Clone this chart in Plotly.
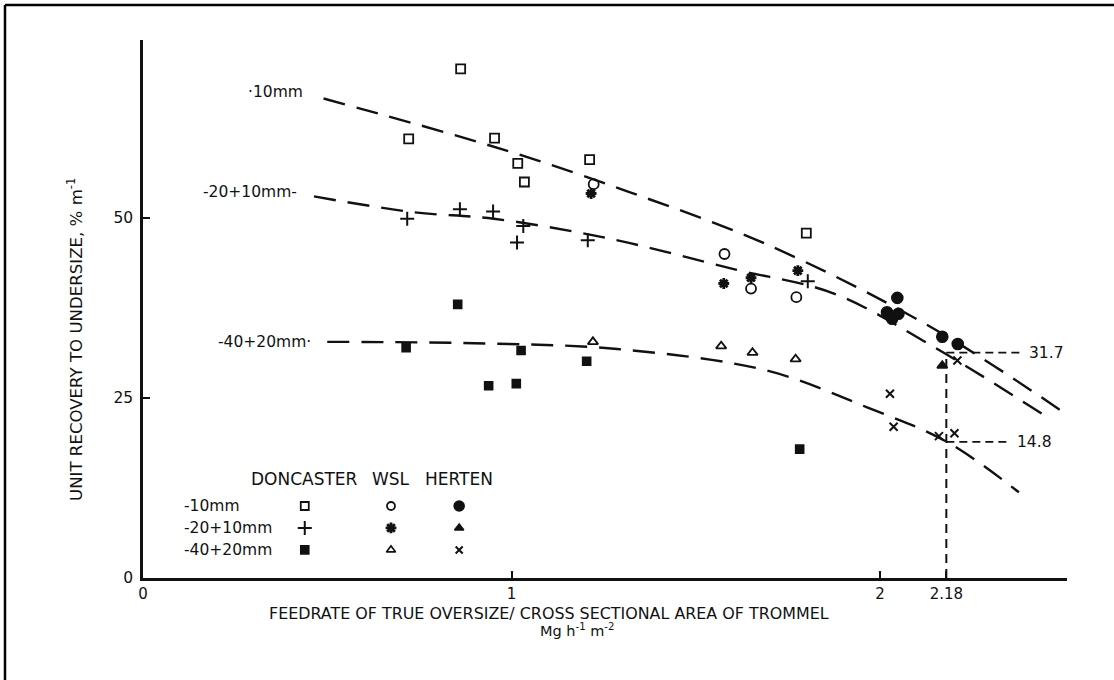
import plotly.graph_objects as go

# ---------------- data ----------------
# Doncaster
don_10_x = [0.721, 0.862, 0.954, 1.017, 1.035, 1.212, 1.800]
don_10_y = [61.0, 70.7, 61.1, 57.6, 55.0, 58.1, 47.9]
don_20_x = [0.717, 0.860, 0.950, 1.015, 1.032, 1.207, 1.804]
don_20_y = [49.9, 51.2, 50.9, 46.6, 48.9, 46.9, 41.2]
don_40_x = [0.714, 0.854, 0.938, 1.013, 1.026, 1.204, 1.782]
don_40_y = [32.0, 38.0, 26.7, 27.0, 31.6, 30.1, 17.9]
# WSL
wsl_10_x = [1.223, 1.578, 1.650, 1.773]
wsl_10_y = [54.7, 45.0, 40.2, 39.0]
wsl_20_x = [1.216, 1.576, 1.650, 1.777]
wsl_20_y = [53.4, 40.9, 41.7, 42.7]
wsl_40_x = [1.221, 1.569, 1.654, 1.771]
wsl_40_y = [32.8, 32.2, 31.3, 30.4]
# Herten
her_10_x = [2.047, 2.019, 2.033, 2.050, 2.169, 2.211]
her_10_y = [38.9, 36.9, 36.0, 36.7, 33.5, 32.5]
her_20_x = [2.169]
her_20_y = [29.5]
her_40_x = [2.027, 2.037, 2.160, 2.202, 2.210]
her_40_y = [25.6, 21.0, 19.7, 20.1, 30.2]

# fitted curves
curve_10_x = [0.49, 0.86, 1.07, 1.32, 1.69, 2.14, 2.507]
curve_10_y = [66.6, 61.3, 58.0, 53.6, 46.4, 34.8, 22.7]
curve_20_x = [0.464, 0.735, 0.952, 1.269, 1.603, 1.875, 2.146, 2.44]
curve_20_y = [53.0, 50.8, 49.9, 47.1, 42.9, 39.5, 32.1, 22.8]
curve_40_x = [0.50, 0.898, 1.287, 1.694, 1.965, 2.182, 2.377]
curve_40_y = [32.8, 32.6, 31.8, 28.8, 23.7, 18.9, 11.9]

curve_labels = ["·10mm", "-20+10mm-", "-40+20mm·"]
curve_label_x = [0.440, 0.422, 0.462]
curve_label_y = [67.5, 53.6, 32.8]

# read-off construction at 2.18
read_x = 2.18
read_hi_y = 31.3
read_lo_y = 18.9
read_hi_label = "31.7"
read_lo_label = "14.8"
read_hi_end = 2.386
read_lo_end = 2.354

x_tickvals = [0, 1, 2, 2.18]
x_ticktext = ["0", "1", "2", "2.18"]
y_tickvals = [0, 25, 50]
y_ticktext = ["0", "25", "50"]

legend_sites = ["DONCASTER", "WSL", "HERTEN"]
legend_rows = ["-10mm", "-20+10mm", "-40+20mm"]

# ---------------- layout constants ----------------
W, H = 1114, 680
ML, MR, MT, MB = 143, 47, 40, 102
PW, PH = W - ML - MR, H - MT - MB
XMAX = PW / 368.5
YMAX = PH / 7.2
FONT = "DejaVu Sans, Liberation Sans, Arial, sans-serif"
INK = "#111111"

def px(xp):
    return (xp - ML) / PW

def py(yp):
    return (H - MB - yp) / PH

fig = go.Figure()

def pts(x, y, symbol, size=8, lw=1.6):
    fig.add_trace(go.Scatter(
        x=x, y=y, mode="markers", showlegend=False, hoverinfo="x+y",
        marker=dict(symbol=symbol, size=size, color=INK,
                    line=dict(color=INK, width=lw))))

for cx, cy in [(curve_10_x, curve_10_y), (curve_20_x, curve_20_y), (curve_40_x, curve_40_y)]:
    fig.add_trace(go.Scatter(
        x=cx, y=cy, mode="lines", showlegend=False, hoverinfo="skip",
        line=dict(color=INK, width=2.4, dash="22px,12px", shape="spline", smoothing=1.0)))

# read-off dashed lines
fig.add_trace(go.Scatter(x=[read_x, read_x], y=[0, read_hi_y], mode="lines", showlegend=False,
                         hoverinfo="skip", line=dict(color=INK, width=2, dash="9px,6px")))
fig.add_trace(go.Scatter(x=[read_x, read_hi_end], y=[read_hi_y, read_hi_y], mode="lines", showlegend=False,
                         hoverinfo="skip", line=dict(color=INK, width=1.8, dash="8px,5px")))
fig.add_trace(go.Scatter(x=[read_x, read_lo_end], y=[read_lo_y, read_lo_y], mode="lines", showlegend=False,
                         hoverinfo="skip", line=dict(color=INK, width=1.8, dash="8px,5px")))

pts(don_10_x, don_10_y, "square-open", 9, 1.8)
pts(don_20_x, don_20_y, "cross-thin-open", 10, 2)
pts(don_40_x, don_40_y, "square", 8)
pts(wsl_10_x, wsl_10_y, "circle-open", 10, 1.8)
pts(wsl_20_x, wsl_20_y, "asterisk-open", 9, 2.8)
pts(wsl_40_x, wsl_40_y, "triangle-up-open", 9, 1.8)
pts(her_10_x, her_10_y, "circle", 11)
pts(her_20_x, her_20_y, "triangle-up", 9)
pts(her_40_x, her_40_y, "x-thin-open", 8, 2)

# legend block (symbols in data coordinates)
leg_col_x = [0.439, 0.673, 0.858]
leg_row_y = [10.0, 6.95, 3.9]
leg_syms = [["square-open", "circle-open", "circle"],
            ["cross-thin-open", "asterisk-open", "triangle-up"],
            ["square", "triangle-up-open", "x-thin-open"]]
leg_size = [[8, 8, 10], [10, 9, 8], [8, 8, 7]]
leg_lw = [[1.8, 1.8, 1.6], [2, 2.8, 1.6], [1.6, 1.6, 2]]
for r in range(3):
    for c in range(3):
        pts([leg_col_x[c]], [leg_row_y[r]], leg_syms[r][c], leg_size[r][c], leg_lw[r][c])

ann = []
for t, x, y in zip(curve_labels, curve_label_x, curve_label_y):
    ann.append(dict(x=x, y=y, xref="x", yref="y", text=t, showarrow=False,
                    xanchor="right", yanchor="middle", font=dict(size=15.5, color=INK, family=FONT)))
ann.append(dict(x=read_hi_end + 0.012, y=read_hi_y, xref="x", yref="y", text=read_hi_label,
                showarrow=False, xanchor="left", yanchor="middle",
                font=dict(size=15.5, color=INK, family=FONT)))
ann.append(dict(x=read_lo_end + 0.012, y=read_lo_y, xref="x", yref="y", text=read_lo_label,
                showarrow=False, xanchor="left", yanchor="middle",
                font=dict(size=15.5, color=INK, family=FONT)))
for t, x in zip(legend_sites, leg_col_x):
    ann.append(dict(x=x, y=13.75, xref="x", yref="y", text=t, showarrow=False,
                    xanchor="center", yanchor="middle", font=dict(size=17, color=INK, family=FONT)))
for t, y in zip(legend_rows, leg_row_y):
    ann.append(dict(x=0.105, y=y, xref="x", yref="y", text=t, showarrow=False,
                    xanchor="left", yanchor="middle", font=dict(size=15.5, color=INK, family=FONT)))

# axis titles
ann.append(dict(x=px(75), y=py(340), xref="paper", yref="paper",
                text="UNIT RECOVERY TO UNDERSIZE, % m<sup>-1</sup>", textangle=-90,
                showarrow=False, xanchor="center", yanchor="middle",
                font=dict(size=16.6, color=INK, family=FONT)))
ann.append(dict(x=px(549), y=py(613), xref="paper", yref="paper",
                text="FEEDRATE OF TRUE OVERSIZE/ CROSS SECTIONAL AREA OF TROMMEL",
                showarrow=False, xanchor="center", yanchor="middle",
                font=dict(size=15.9, color=INK, family=FONT)))
ann.append(dict(x=px(577), y=py(630), xref="paper", yref="paper",
                text="Mg h<sup>-1</sup> m<sup>-2</sup>",
                showarrow=False, xanchor="center", yanchor="middle",
                font=dict(size=14.5, color=INK, family=FONT)))

shapes = [
    dict(type="line", xref="paper", yref="paper", x0=px(5), x1=px(5), y0=py(5), y1=py(H + 5),
         line=dict(color="#000000", width=2.5)),
    dict(type="line", xref="paper", yref="paper", x0=px(5), x1=px(W + 5), y0=py(5), y1=py(5),
         line=dict(color="#000000", width=2.5)),
]

fig.update_layout(
    width=W, height=H,
    margin=dict(l=ML, r=MR, t=MT, b=MB, pad=0),
    paper_bgcolor="white", plot_bgcolor="white",
    font=dict(family=FONT, size=15, color=INK),
    annotations=ann, shapes=shapes, showlegend=False,
    xaxis=dict(range=[0, XMAX], tickvals=x_tickvals, ticktext=x_ticktext,
               showgrid=False, zeroline=False, showline=True, linecolor=INK, linewidth=2.5,
               ticks="inside", ticklen=7, tickwidth=1.6, tickcolor=INK,
               tickfont=dict(size=15, color=INK, family=FONT), fixedrange=True),
    yaxis=dict(range=[0, YMAX], tickvals=y_tickvals, ticktext=y_ticktext,
               showgrid=False, zeroline=False, showline=True, linecolor=INK, linewidth=2.5,
               ticks="inside", ticklen=7, tickwidth=1.6, tickcolor=INK, ticklabelstandoff=4,
               tickfont=dict(size=15.5, color=INK, family=FONT), fixedrange=True),
)

fig.write_html("out.html", config={"displayModeBar": False},
               post_script="document.body.style.margin='0px';")
